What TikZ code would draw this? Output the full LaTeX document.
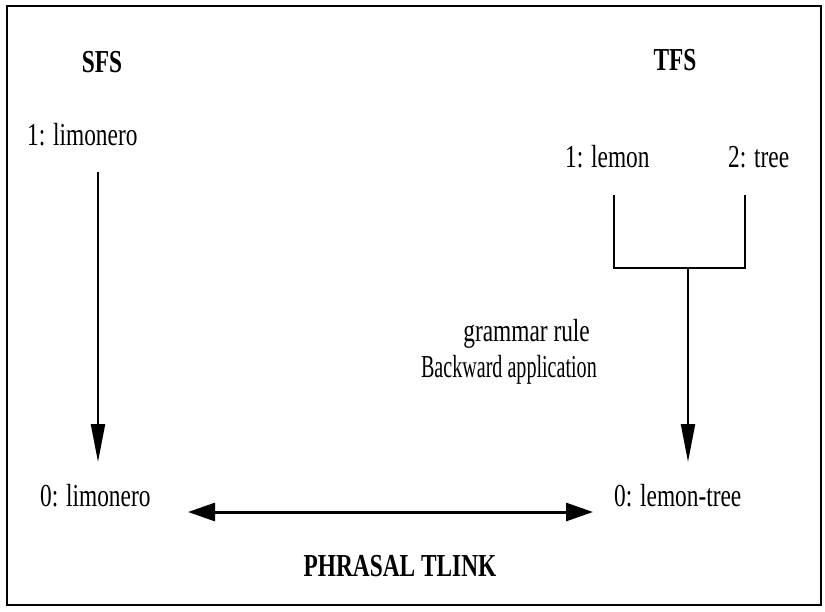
\documentclass[tikz,border=0pt]{standalone}
\usepackage{fontspec}
\usepackage{graphicx}
\setmainfont[FakeStretch=0.73]{Liberation Serif}
\usetikzlibrary{arrows.meta}
\tikzset{
  lbl/.style={inner sep=0pt, font=\fontsize{32}{34}\selectfont},
  hdr/.style={inner sep=0pt, font=\fontsize{32}{34}\selectfont\bfseries},
  line/.style={line width=2.2pt},
  varrow/.style={line width=2.2pt, -{Triangle[length=38pt,width=14pt]}},
  harrow/.style={line width=3pt, {Triangle[length=27pt,width=18pt]}-{Triangle[length=27pt,width=18pt]}},
}
\begin{document}
\begin{tikzpicture}[x=1pt,y=-1pt]
\useasboundingbox (0,0) rectangle (825,611);
\draw[line width=2.6pt] (7,6) rectangle (821,605);
% headers
\node[hdr, anchor=base] (sfs) at (102,72) {SFS};
\node[hdr, anchor=base] (tfs) at (675,70) {TFS};
% labels
\node[lbl, anchor=base west] (l1) at (27,145) {1: limonero};
\node[lbl, anchor=base west] (lemon) at (565,167) {1: lemon};
\node[lbl, anchor=base west] (tree) at (728,167) {2: tree};
\node[lbl, anchor=base east] (gr) at (590,341) {grammar rule};
\node[lbl, anchor=base east] (ba) at (597,377) {\scalebox{0.86}[1]{Backward application}};
\node[lbl, anchor=base west] (l0) at (40,506) {0: limonero};
\node[lbl, anchor=base west] (lt) at (614,506) {0: lemon-tree};
\node[hdr, anchor=base] (pt) at (400,576) {PHRASAL TLINK};
% connector points
\coordinate (ls) at (98,172);
\coordinate (le) at (98,462);
\coordinate (bl) at (614,195);
\coordinate (br) at (745,195);
\coordinate (bm) at (688,268);
\coordinate (re) at (688,462);
\coordinate (hl) at (188,512);
\coordinate (hr) at (593,512);
% arrows
\draw[varrow] (ls) -- (le);
\draw[line] (bl) -- (bl |- bm) -- (br |- bm) -- (br);
\draw[varrow] (bm) -- (re);
\draw[harrow] (hl) -- (hr);
\end{tikzpicture}
\end{document}
